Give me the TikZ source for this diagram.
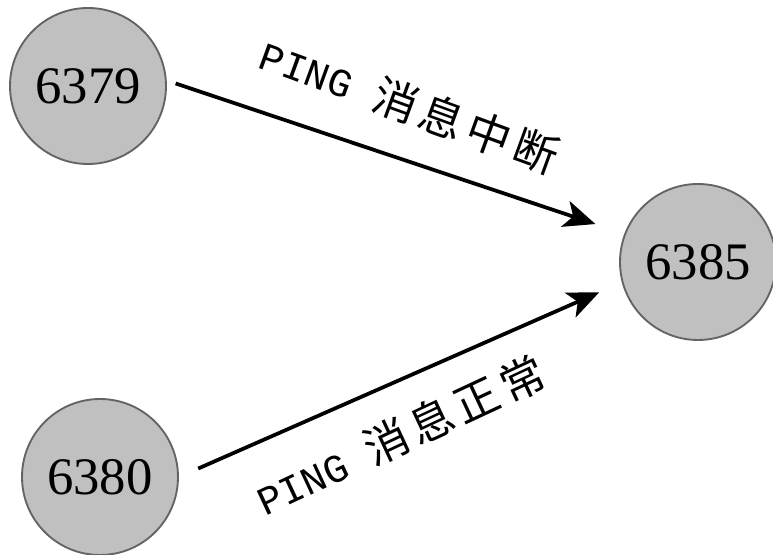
\documentclass[tikz,border=0pt]{standalone}
\usepackage{fontspec}
\setmainfont{Liberation Serif}
\setmonofont{Liberation Mono}
\newfontfamily\cjk[LetterSpace=12]{Noto Sans CJK SC}
\usepackage{xcolor}
\usetikzlibrary{arrows.meta}
\definecolor{nodegray}{RGB}{192,192,192}
\definecolor{rimgray}{RGB}{100,100,100}

\begin{document}
\begin{tikzpicture}[x=0.03cm, y=0.03cm,
  peer/.style={circle, draw=rimgray, line width=1.6pt, fill=nodegray,
    minimum size=4.68cm, inner sep=0pt, font=\fontsize{45}{50}\selectfont},
  msg/.style={line width=3.2pt, -{Stealth[length=27pt, width=23pt, inset=7pt]}},
  tag/.style={font=\fontsize{34}{40}\selectfont\ttfamily}]
\useasboundingbox (0,0) rectangle (773,555);
\foreach \n/\x/\y in {6379/88/469, 6380/100/78, 6385/698/293}{
  \node[peer] (n\n) at (\x,\y) {\n};
}
\draw[msg, shorten <=8pt, shorten >=26pt] (n6379.4) -- (n6385.159);
\draw[msg, shorten <=18pt, shorten >=21pt] (n6380.0) -- (n6385.195);
\node[tag, rotate=-20] (lbl1) at (410,450) {PING {\cjk\fontsize{38}{40}\selectfont 消息中断}};
\node[tag, rotate=25] (lbl2) at (400,120) {PING {\cjk\fontsize{38}{40}\selectfont 消息正常}};
\end{tikzpicture}
\end{document}
